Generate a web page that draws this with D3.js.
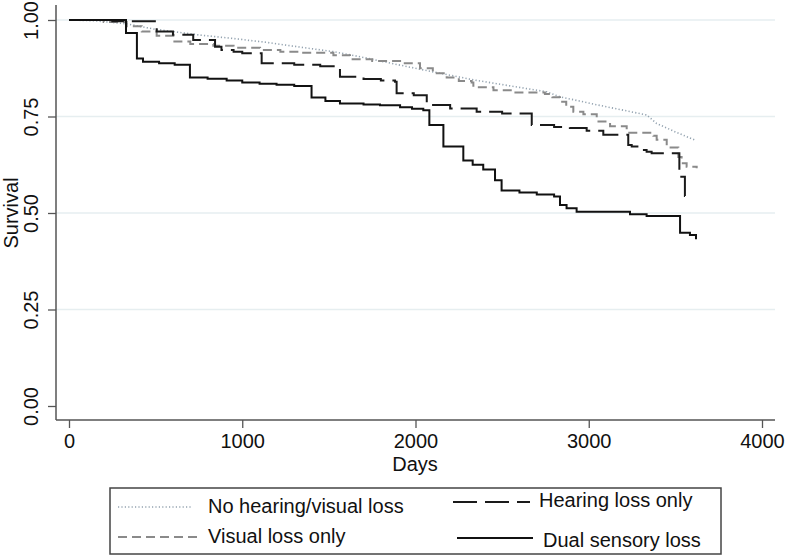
<!DOCTYPE html>
<html>
<head>
<meta charset="utf-8">
<script src="https://cdn.jsdelivr.net/npm/d3@7"></script>
<style>
  html, body { margin: 0; padding: 0; background: #fff; }
  svg { display: block; }
  text { font-family: "Liberation Sans", Arial, Helvetica, sans-serif; fill: #111; }
</style>
</head>
<body>
<svg id="chart" width="785" height="556"></svg>
<script>
// ---- Data ----
const xTicks = [0, 1000, 2000, 3000, 4000];
const yTicks = [0, 0.25, 0.5, 0.75, 1];
const yGrid = [0.25, 0.5, 0.75, 1];
const xLabel = "Days";
const yLabel = "Survival";

const seriesNames = ["No hearing/visual loss", "Visual loss only", "Hearing loss only", "Dual sensory loss"];

// [days, survival]
const noLoss = [
  [0,1.0],[150,0.998],[333,0.990],[497,0.976],[756,0.961],[950,0.952],[1141,0.942],
  [1330,0.930],[1526,0.918],[1700,0.903],[1911,0.883],[2065,0.869],[2200,0.857],
  [2334,0.845],[2550,0.829],[2757,0.814],[2834,0.801],[3050,0.780],[3334,0.754],
  [3392,0.732],[3500,0.710],[3613,0.689]
];
const visualOnly = [
  [0,1.0],[200,0.995],[333,0.984],[420,0.970],[506,0.959],[602,0.944],[700,0.938],
  [833,0.933],[950,0.928],[1103,0.922],[1220,0.918],[1333,0.915],[1526,0.909],
  [1622,0.898],[1750,0.894],[1911,0.888],[2026,0.875],[2100,0.862],[2180,0.851],
  [2250,0.842],[2324,0.838],[2334,0.826],[2450,0.818],[2565,0.812],[2747,0.808],
  [2790,0.800],[2834,0.788],[2870,0.775],[2911,0.762],[2969,0.756],[3046,0.737],
  [3123,0.725],[3219,0.708],[3373,0.700],[3392,0.690],[3450,0.670],[3517,0.645],
  [3536,0.629],[3565,0.620],[3623,0.616]
];
const hearingOnly = [
  [0,1.0],[250,0.997],[506,0.970],[600,0.962],[717,0.948],[843,0.931],[880,0.922],
  [950,0.918],[1000,0.914],[1112,0.888],[1300,0.884],[1450,0.880],[1564,0.853],
  [1700,0.847],[1800,0.843],[1882,0.840],[1891,0.810],[1990,0.805],[2065,0.780],
  [2200,0.771],[2353,0.762],[2500,0.758],[2671,0.728],[2800,0.723],[2891,0.720],
  [2988,0.713],[3084,0.703],[3228,0.676],[3248,0.672],[3300,0.663],[3334,0.659],
  [3363,0.655],[3523,0.594],[3555,0.544],[3600,0.544]
];
const dualLoss = [
  [0,1.0],[329,0.966],[392,0.900],[427,0.892],[520,0.888],[610,0.884],[698,0.851],
  [800,0.848],[910,0.843],[1000,0.838],[1100,0.835],[1198,0.832],[1300,0.829],
  [1400,0.799],[1480,0.790],[1564,0.784],[1700,0.781],[1795,0.779],[1911,0.774],
  [1980,0.770],[2045,0.766],[2080,0.728],[2161,0.672],[2276,0.636],[2330,0.625],
  [2391,0.613],[2459,0.585],[2497,0.558],[2600,0.553],[2700,0.548],[2800,0.543],
  [2834,0.521],[2872,0.512],[2930,0.503],[3238,0.497],[3334,0.492],[3527,0.449],
  [3584,0.443],[3619,0.432]
];

// ---- Layout ----
const svg = d3.select("#chart");
const x = d3.scaleLinear().domain([0, 4000]).range([69, 762]);
const y = d3.scaleLinear().domain([0, 1]).range([406, 20]);
const axisLeftX = 56, axisBottomY = 420, plotRight = 775;

const axisColor = "#555";

// gridlines
svg.append("g").selectAll("line").data(yGrid).join("line")
  .attr("x1", axisLeftX).attr("x2", plotRight)
  .attr("y1", d => y(d)).attr("y2", d => y(d))
  .attr("stroke", "#e6eef0").attr("stroke-width", 1.5);

// y axis
const yAxis = d3.axisLeft(y).tickValues(yTicks).tickFormat(d3.format(".2f")).tickSize(8).tickPadding(0);
const gy = svg.append("g").attr("transform", `translate(${axisLeftX},0)`).call(yAxis);
gy.select(".domain").remove();
gy.selectAll(".tick line").attr("stroke", axisColor).attr("stroke-width", 1.3);
gy.selectAll(".tick text").remove();
gy.selectAll(".tick").append("text")
  .attr("transform", "translate(-23,0) rotate(-90)")
  .attr("text-anchor", "middle")
  .attr("dominant-baseline", "middle")
  .style("font-size", "20px")
  .text(d => d3.format(".2f")(d));
svg.append("line").attr("x1", axisLeftX).attr("x2", axisLeftX).attr("y1", 5).attr("y2", axisBottomY)
  .attr("stroke", axisColor).attr("stroke-width", 1.5);

// x axis
const xAxis = d3.axisBottom(x).tickValues(xTicks).tickFormat(d3.format("d")).tickSize(8).tickPadding(4);
const gx = svg.append("g").attr("transform", `translate(0,${axisBottomY})`).call(xAxis);
gx.select(".domain").remove();
gx.selectAll(".tick line").attr("stroke", axisColor).attr("stroke-width", 1.3);
gx.selectAll(".tick text").style("font-size", "20px").attr("fill", "#111")
  .attr("y", 23).attr("dy", "0").attr("dominant-baseline", "middle");
svg.append("line").attr("x1", axisLeftX).attr("x2", plotRight).attr("y1", axisBottomY).attr("y2", axisBottomY)
  .attr("stroke", axisColor).attr("stroke-width", 1.5);

// axis titles
svg.append("text").attr("x", 415).attr("y", 466).attr("text-anchor", "middle")
  .attr("dominant-baseline", "middle").style("font-size", "20px").text(xLabel);
svg.append("text").attr("transform", "translate(13,213) rotate(-90)").attr("text-anchor", "middle")
  .attr("dominant-baseline", "middle").style("font-size", "20px").text(yLabel);

// ---- Lines ----
const styles = [
  { data: noLoss, color: "#94a3b0", width: 1.6, dash: "1.2,2.2", curve: d3.curveLinear },
  { data: visualOnly, color: "#8a8a8a", width: 2, dash: "9,5", curve: d3.curveStepAfter },
  { data: hearingOnly, color: "#1a1a1a", width: 2, dash: "24,8", curve: d3.curveStepAfter },
  { data: dualLoss, color: "#111", width: 2, dash: null, curve: d3.curveStepAfter }
];
styles.forEach(s => {
  const line = d3.line().x(d => x(d[0])).y(d => y(d[1])).curve(s.curve);
  svg.append("path").datum(s.data).attr("d", line)
    .attr("fill", "none").attr("stroke", s.color).attr("stroke-width", s.width)
    .attr("stroke-dasharray", s.dash);
});

// ---- Legend ----
svg.append("rect").attr("x", 110).attr("y", 488).attr("width", 611).attr("height", 66)
  .attr("fill", "#fff").attr("stroke", "#444").attr("stroke-width", 1.5);
const legendItems = [
  { x1: 118, x2: 192, ly: 507, tx: 208, ty: 508, s: styles[0], name: seriesNames[0] },
  { x1: 118, x2: 197, ly: 537, tx: 208, ty: 538, s: styles[1], name: seriesNames[1] },
  { x1: 453, x2: 530, ly: 502, tx: 539, ty: 502, s: styles[2], name: seriesNames[2] },
  { x1: 457, x2: 533, ly: 538, tx: 543, ty: 542, s: styles[3], name: seriesNames[3] }
];
legendItems.forEach(it => {
  svg.append("line").attr("x1", it.x1).attr("x2", it.x2).attr("y1", it.ly).attr("y2", it.ly)
    .attr("stroke", it.s.color).attr("stroke-width", it.s.width).attr("stroke-dasharray", it.s.dash);
  svg.append("text").attr("x", it.tx).attr("y", it.ty).attr("dominant-baseline", "middle")
    .style("font-size", "20px").text(it.name);
});
</script>
</body>
</html>
